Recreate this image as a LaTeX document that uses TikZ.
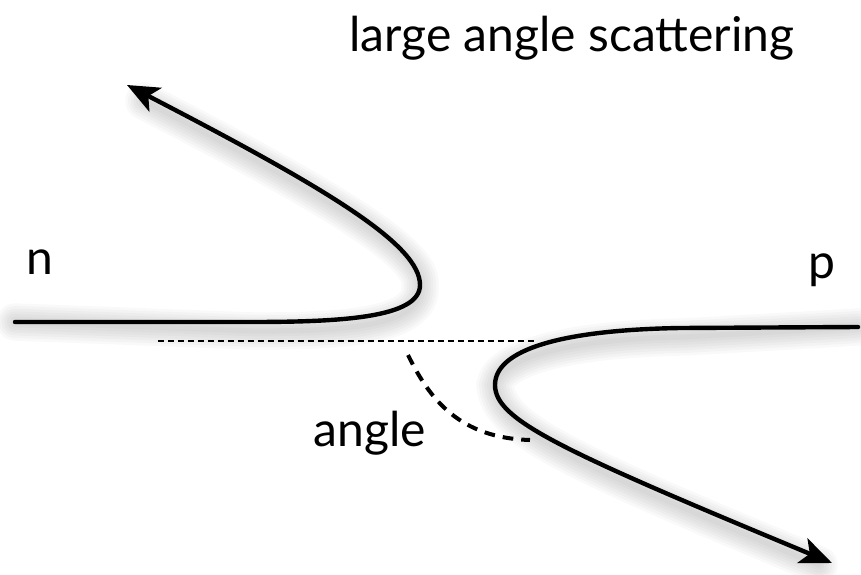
\documentclass[tikz,border=0pt]{standalone}
\usepackage{fontspec}
\setmainfont{Lato}
\usetikzlibrary{arrows.meta}
\begin{document}
\begin{tikzpicture}[x=0.75pt,y=-0.75pt,
  traj/.style={line width=3.3pt,line cap=round},
  shadowline/.style={line width=#1,draw=black,draw opacity=0.022,line cap=round,shift={(4,9)}},
  tip/.style={-{Stealth[length=24pt,width=20pt,inset=6pt]}},
  lbl/.style={font=\fontsize{36}{42}\selectfont,inner sep=0pt}]
\useasboundingbox (0,0) rectangle (861,575);
% coordinates
\coordinate (nstart) at (15,322);
\coordinate (nturn) at (420,285);
\coordinate (nend) at (127,85);
\coordinate (pstart) at (858,327);
\coordinate (pturn) at (495,385);
\coordinate (pend) at (832,563);
\coordinate (axl) at (158,341);
\coordinate (axr) at (537,341);
\coordinate (ang1) at (408,355);
\coordinate (ang2) at (530,440);
% shadows
\foreach \w in {4pt,8pt,12pt,16pt,20pt,24pt,28pt}{
 \draw[shadowline=\w] (nstart) -- (250,322) .. controls (340,322) and (420,318) .. (nturn) .. controls (420,245) and (330,190) .. (140,92);
 \draw[shadowline=\w] (pstart) -- (680,328) .. controls (560,330) and (495,350) .. (pturn) .. controls (495,420) and (560,450) .. (815,556);
}
% trajectories
\draw[traj,tip] (nstart) -- (250,322) .. controls (340,322) and (420,318) .. (nturn) .. controls (420,245) and (330,190) .. (nend);
\draw[traj,tip] (pstart) -- (680,328) .. controls (560,330) and (495,350) .. (pturn) .. controls (495,420) and (560,450) .. (pend);
% axis dotted
\draw[line width=1.2pt,dash pattern=on 4.5pt off 3pt] (axl) -- (axr);
% angle dashed
\draw[line width=3pt,dash pattern=on 8pt off 6pt] (ang1) .. controls (430,400) and (460,438) .. (ang2);
% labels
\node[lbl] (title) at (572,38) {large angle scattering};
\node[lbl] (n) at (40,262) {n};
\node[lbl] (p) at (822,270) {p};
\node[lbl] (angle) at (370,433) {angle};
\end{tikzpicture}
\end{document}
